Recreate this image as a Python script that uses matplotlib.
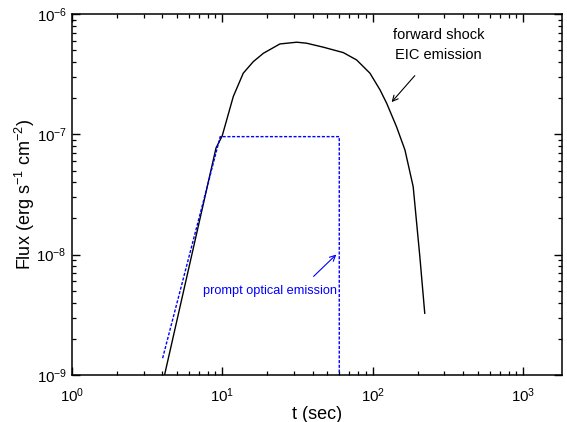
import matplotlib
matplotlib.use("Agg")
import matplotlib.pyplot as plt

plt.rcParams['font.family'] = ['Liberation Sans', 'DejaVu Sans']
plt.rcParams['mathtext.fontset'] = 'custom'
plt.rcParams['mathtext.rm'] = 'Liberation Sans'
plt.rcParams['mathtext.it'] = 'Liberation Sans'
plt.rcParams['mathtext.default'] = 'regular'
plt.rcParams['axes.unicode_minus'] = False

# forward shock EIC emission (black)
t_eic = [4.14, 9.1, 10.0, 11.85, 13.8, 16.1, 18.8, 24.2, 31.3, 36.4, 47.0, 63.8,
         78.3, 96.0, 112.0, 124.0, 144.0, 164.0, 186.0, 206.0, 222.0]
f_eic = [1.0e-9, 7.7e-8, 9.7e-8, 2.06e-7, 3.22e-7, 4.02e-7, 4.72e-7, 5.64e-7, 5.83e-7,
         5.72e-7, 5.3e-7, 4.78e-7, 4.15e-7, 3.22e-7, 2.34e-7, 1.81e-7, 1.16e-7,
         7.41e-8, 3.67e-8, 9.6e-9, 3.26e-9]

# prompt optical emission (blue dashed)
t_opt = [4.02, 9.7, 60.0, 60.0]
f_opt = [1.38e-9, 9.57e-8, 9.57e-8, 1.0e-9]

fig = plt.figure(figsize=(5.67, 4.22), dpi=100)
ax = fig.add_axes([0.1265, 0.1114, 0.8645, 0.8554])

ax.plot(t_eic, f_eic, color='black', lw=1.0)
ax.plot(t_opt, f_opt, color='blue', lw=1.0, ls=(0, (2.2, 1.2)))

ax.set_xscale('log')
ax.set_yscale('log')
ax.set_xlim(1, 1811)
ax.set_ylim(1e-9, 1e-6)

ax.tick_params(which='both', direction='in', top=True, right=True, labelsize=10.8)
ax.tick_params(which='major', length=5.8, width=1.0)
ax.tick_params(which='minor', length=3.0, width=0.9)
ax.tick_params(axis='x', pad=8)
for s in ax.spines.values():
    s.set_linewidth(1.1)

ax.set_xlabel('t (sec)', fontsize=13, labelpad=1)
ax.set_ylabel(r'Flux (erg s$^{-1}$ cm$^{-2}$)', fontsize=13)
ax.yaxis.set_label_coords(-0.071, 0.5)

ax.text(275, 6.7e-7, 'forward shock', fontsize=10.5, ha='center', va='center')
ax.text(275, 4.57e-7, 'EIC emission', fontsize=10.5, ha='center', va='center')
ax.annotate('', xy=(130, 1.78e-7), xytext=(196, 3.2e-7),
            arrowprops=dict(arrowstyle='->', color='black', lw=0.8))

ax.text(20.8, 4.99e-9, 'prompt optical emission', fontsize=9.2, color='blue',
        ha='center', va='center')
ax.annotate('', xy=(59.1, 1.04e-8), xytext=(39.3, 6.36e-9),
            arrowprops=dict(arrowstyle='->', color='blue', lw=0.8))

fig.savefig('out.png', dpi=100)
